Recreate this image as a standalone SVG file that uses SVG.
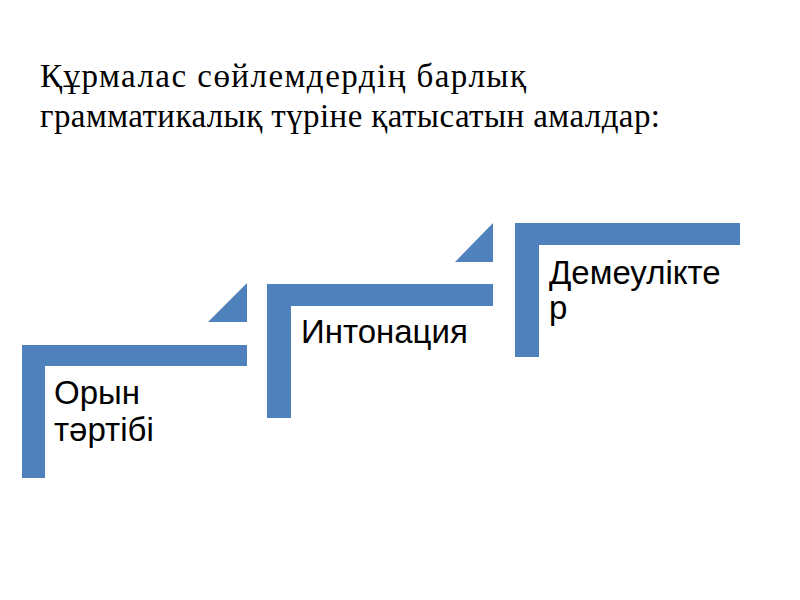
<svg xmlns="http://www.w3.org/2000/svg" width="800" height="600" viewBox="0 0 800 600">
<style>
.bar{fill:#4F81BD}
.lbl{font-family:"Liberation Sans",Arial,sans-serif;font-size:33px;fill:#000}
.title{font-family:"Liberation Serif","Times New Roman",serif;font-size:33px;fill:#000}
</style>
<rect width="800" height="600" fill="#fff"/>
<g id="title">
<text class="title" x="40" y="87" textLength="486" lengthAdjust="spacing">Құрмалас сөйлемдердің барлық</text>
<text class="title" x="40" y="127" textLength="620" lengthAdjust="spacing">грамматикалық түріне қатысатын амалдар:</text>
</g>
<g id="node1">
<path class="bar" d="M22,345 H247 V366 H45 V478 H22 Z"/>
<polygon class="bar" points="247,283 247,322 208,322"/>
<text class="lbl" x="54" y="404">Орын</text>
<text class="lbl" x="54" y="441">тәртібі</text>
</g>
<g id="node2">
<path class="bar" d="M267,284 H493 V306 H291 V418 H267 Z"/>
<polygon class="bar" points="493,223 493,262 455,262"/>
<text class="lbl" x="301" y="343">Интонация</text>
</g>
<g id="node3">
<path class="bar" d="M515,223 H740 V245 H539 V357 H515 Z"/>
<text class="lbl" x="549" y="284">Демеулікте</text>
<text class="lbl" x="549" y="319">р</text>
</g>
<g id="connectors"></g>
</svg>
